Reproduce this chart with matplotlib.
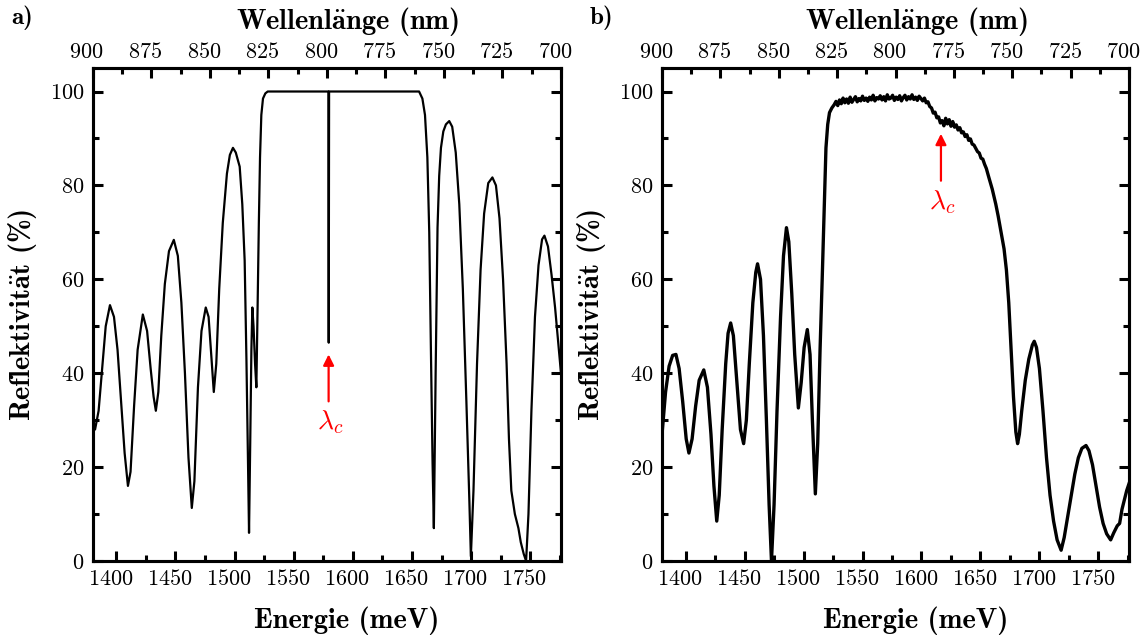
import numpy as np
import matplotlib
matplotlib.use("Agg")
import matplotlib.pyplot as plt
import matplotlib.transforms as mtransforms
from matplotlib.ticker import MultipleLocator

plt.rcParams['mathtext.fontset'] = 'cm'
plt.rcParams['font.family'] = 'serif'
plt.rcParams['font.serif'] = ['cmr10']
plt.rcParams['axes.formatter.use_mathtext'] = True

# --- data (energy in meV, reflectivity in %) ---
# a) simulated spectrum
sim_E = [1380, 1382, 1385, 1388, 1391, 1394.6, 1398, 1401, 1404, 1407, 1409.8,
         1412, 1415, 1418, 1422.4, 1426, 1429, 1431.5, 1433.4, 1435.5, 1438,
         1441, 1444.5, 1448.6, 1452, 1455, 1458, 1461, 1463.8, 1466, 1469,
         1472, 1475.6, 1478, 1480.5, 1482.4, 1484.5, 1487, 1490, 1493.5, 1496,
         1498.6, 1501, 1504.3, 1506.5, 1508.5, 1510, 1511.3, 1512.2, 1513.2,
         1514.2, 1515, 1516, 1517.3, 1518.4, 1519.5, 1520.5, 1521.5, 1522.6,
         1524, 1526, 1528, 1579.3, 1579.6, 1579.9, 1656, 1658.8, 1661, 1663,
         1664.6, 1666, 1667.4, 1668.5, 1670, 1671.6, 1673, 1674.5, 1676.5,
         1678.7, 1681.5, 1684, 1687, 1690, 1693, 1696, 1698.5, 1699.8, 1702,
         1705, 1708, 1711, 1714.5, 1718, 1721, 1724, 1727, 1730, 1732, 1734,
         1737, 1740, 1742, 1744.5, 1746.5, 1748.5, 1751, 1754, 1757, 1760,
         1762, 1765, 1768, 1771, 1773.5, 1776]
sim_R = [29, 28, 32, 41, 50, 54.5, 52, 45, 34, 23, 16,
         19, 33, 45, 52.5, 49, 41, 35, 32, 36, 48,
         59, 66, 68.4, 65, 55, 40, 22, 11.3, 17, 37,
         49, 54, 52, 43, 36, 42, 58, 72, 82.5, 86.5,
         88, 87, 84, 76, 64, 43, 21.5, 6, 25,
         45, 54, 50, 42, 37, 55, 72, 86, 95,
         98.5, 99.6, 100, 100, 46.5, 100, 100, 98.5, 95, 86,
         70, 45, 21, 7, 40, 71, 82, 88, 91.5,
         93, 93.7, 92.5, 87, 76, 58, 34, 13, 1, 15,
         42, 62, 74, 80.5, 81.7, 80, 73, 60, 42, 26, 15,
         10, 7, 4, 1.5, 0, 10, 32, 52, 63, 68.5,
         69.3, 67, 61, 54, 47, 40]

# b) measured spectrum
meas_E = [1380, 1383, 1386, 1389, 1391.8, 1394.5, 1397.5, 1400.5, 1402.8,
          1405.5, 1408.5, 1411.5, 1415.4, 1418.5, 1421.5, 1424, 1426.4, 1428.5,
          1431, 1434, 1436, 1438.2, 1440.5, 1443.5, 1446.5, 1449.2, 1451.5,
          1454, 1457, 1459.5, 1461, 1463.5, 1466, 1468.5, 1470.8, 1472.8, 1475,
          1477.5, 1480.5, 1483, 1485.5, 1487.5, 1490, 1492.5, 1495.6, 1498,
          1500.5, 1503.2, 1505.5, 1507.5, 1510, 1512, 1514, 1515.8, 1517.5,
          1519, 1520.5, 1522, 1524, 1526, 1527.5, 1529, 1530.5, 1532, 1533.5,
          1535, 1536.5, 1538, 1539.5, 1541, 1542.5, 1544, 1545.5, 1547, 1548.5,
          1550, 1551.5, 1553, 1554.5, 1556, 1557.5, 1559, 1560.5, 1562, 1563.5,
          1565, 1566.5, 1568, 1569.5, 1571, 1572.5, 1574, 1575.5, 1577, 1578.5,
          1580, 1581.5, 1583, 1584.5, 1586, 1587.5, 1589, 1590.5, 1592, 1593.5,
          1595, 1596.5, 1598, 1599.5, 1601, 1602.5, 1604, 1605.5, 1607, 1608.5,
          1610, 1611.5, 1613, 1614.5, 1616, 1617.5, 1619, 1620.5, 1622, 1623.5,
          1625, 1626.5, 1628, 1629.5, 1631, 1632.5, 1634, 1635.5, 1637, 1638.5,
          1640, 1641.5, 1643, 1644.5, 1646, 1647.5, 1649, 1650.5, 1652, 1653.5,
          1655, 1657, 1660, 1663, 1665, 1667.5, 1670,
          1672, 1674, 1676, 1678, 1680, 1681.5, 1683, 1685, 1688, 1691, 1694,
          1695.6, 1697.5, 1700, 1703, 1706, 1709, 1712, 1715, 1718.4, 1721,
          1724, 1727, 1730, 1733, 1736, 1739.5, 1742, 1745, 1748, 1751, 1754,
          1757, 1760.4, 1763, 1766, 1768, 1770, 1772, 1774, 1776]
meas_R = [27, 36, 41.5, 43.8, 44, 41, 34, 26, 23,
          26, 33, 38.5, 40.7, 37, 27, 16, 8.5, 14,
          28, 42, 48.5, 50.7, 48, 38, 28, 25, 30,
          42, 55, 61.5, 63.3, 60, 48, 30, 12, 0, 12,
          32, 52, 65, 71, 68, 57, 44, 32.6, 38,
          45.5, 49.3, 44, 30, 14.3, 25, 45, 60, 75,
          88, 93, 95.5, 96.5, 97.2, 97.9, 97.0, 98.2, 97.4, 98.6,
          97.6, 98.4, 97.5, 98.8, 97.7, 98.3, 98.9, 97.8, 98.5, 98.0,
          99.0, 98.1, 98.6, 97.9, 98.8, 98.2, 99.2, 98.0, 98.7, 98.4,
          99.1, 98.2, 98.9, 98.0, 99.3, 98.4, 98.6, 99.2, 98.1, 98.8,
          98.3, 99.1, 98.0, 98.7, 99.2, 98.2, 98.9, 98.4, 99.3, 98.3,
          98.8, 98.1, 99.0, 98.5, 98.0, 98.6, 97.6, 97.8, 96.8, 96.5,
          95.4, 95.6, 94.4, 94.6, 93.3, 93.8, 92.7, 94.3, 93.1, 94.0,
          92.6, 93.6, 92.4, 92.9, 91.8, 92.3, 91.2, 91.4, 90.4, 90.8,
          89.6, 89.9, 88.8, 88.6, 87.9, 87.2, 86.9, 85.8, 85.6, 84.5,
          83.6, 81.8, 79.2, 76, 73.5, 70, 66.5,
          62, 55, 45, 35, 27.5, 25, 27, 32, 38.5, 43, 46,
          46.8, 45.5, 41, 32, 22, 14, 8.5, 4.5, 2.3, 5,
          9.5, 14, 18.5, 22, 24, 24.6, 23.5, 20.5, 16, 11.5, 8,
          5.8, 4.5, 6, 7.5, 8, 11, 13, 15, 16.5]

# cavity wavelength markers (energy, arrow tip, arrow tail, text y)
lc_a = (1579.5, 44.0, 34.0, 29.5)
lc_b = (1616.5, 91.0, 81.0, 76.5)

E_LIM = (1380, 1776)
WL_TICKS = [900, 875, 850, 825, 800, 775, 750, 725, 700]

fig = plt.figure(figsize=(11.43, 6.43), dpi=100)
ax_a = fig.add_axes([0.0811, 0.1275, 0.4097, 0.7667])
ax_b = fig.add_axes([0.5792, 0.1275, 0.4086, 0.7667])

LW_SPINE = 2.2
TICK_FS = 16
LABEL_FS = 20.5
BOLD = {'family': 'cmb10', 'size': LABEL_FS}
# tick labels in the reference sit a few pixels left of their ticks
shift = mtransforms.ScaledTranslation(-6 / 100, 0, fig.dpi_scale_trans)


def style_axes(ax):
    for s in ax.spines.values():
        s.set_linewidth(LW_SPINE)
    ax.set_xlim(*E_LIM)
    ax.set_ylim(0, 105)
    ax.xaxis.set_major_locator(MultipleLocator(50))
    ax.xaxis.set_minor_locator(MultipleLocator(25))
    ax.yaxis.set_major_locator(MultipleLocator(20))
    ax.yaxis.set_minor_locator(MultipleLocator(10))
    ax.tick_params(which='both', direction='in', top=False, right=True,
                   width=2.2, labelsize=TICK_FS, pad=6)
    ax.tick_params(which='major', length=7)
    ax.tick_params(which='minor', length=4)
    ax.set_xlabel(r'Energie (meV)', fontdict=BOLD, labelpad=12)
    ax.xaxis.label.set_x(0.543)
    ax.set_ylabel(r'Reflektivit$\mathbf{\ddot{a}}$t (%)', fontdict=BOLD,
                  labelpad=8)

    top = ax.twiny()
    for s in top.spines.values():
        s.set_linewidth(LW_SPINE)
    top.set_xlim(900, 700)
    top.set_xticks(WL_TICKS)
    top.xaxis.set_minor_locator(MultipleLocator(12.5))
    top.tick_params(which='both', direction='in', width=2.2,
                    labelsize=TICK_FS, pad=4)
    top.tick_params(which='major', length=7)
    top.tick_params(which='minor', length=4)
    top.set_xlabel(r'Wellenl$\mathbf{\ddot{a}}$nge (nm)', fontdict=BOLD,
                   labelpad=10)
    top.xaxis.label.set_x(0.545)

    for lab in ax.get_xticklabels() + top.get_xticklabels():
        lab.set_transform(lab.get_transform() + shift)
    return top


def mark_lc(ax, lc):
    e, tip, tail, ty = lc
    ax.annotate('', xy=(e, tip), xytext=(e, tail),
                arrowprops=dict(arrowstyle='-|>', color='red', lw=1.6,
                                mutation_scale=16, shrinkA=0, shrinkB=0))
    ax.text(e + 1.5, ty, r'$\lambda_c$', color='red', fontsize=20,
            ha='center', va='center')


style_axes(ax_a)
style_axes(ax_b)

ax_a.plot(sim_E, sim_R, color='black', lw=1.6)
ax_b.plot(meas_E, meas_R, color='black', lw=2.4)

mark_lc(ax_a, lc_a)
mark_lc(ax_b, lc_b)

fig.text(0.010, 0.972, 'a)', fontfamily='cmb10', fontsize=18, va='center')
fig.text(0.516, 0.972, 'b)', fontfamily='cmb10', fontsize=18, va='center')

fig.savefig('out.png', dpi=100)
